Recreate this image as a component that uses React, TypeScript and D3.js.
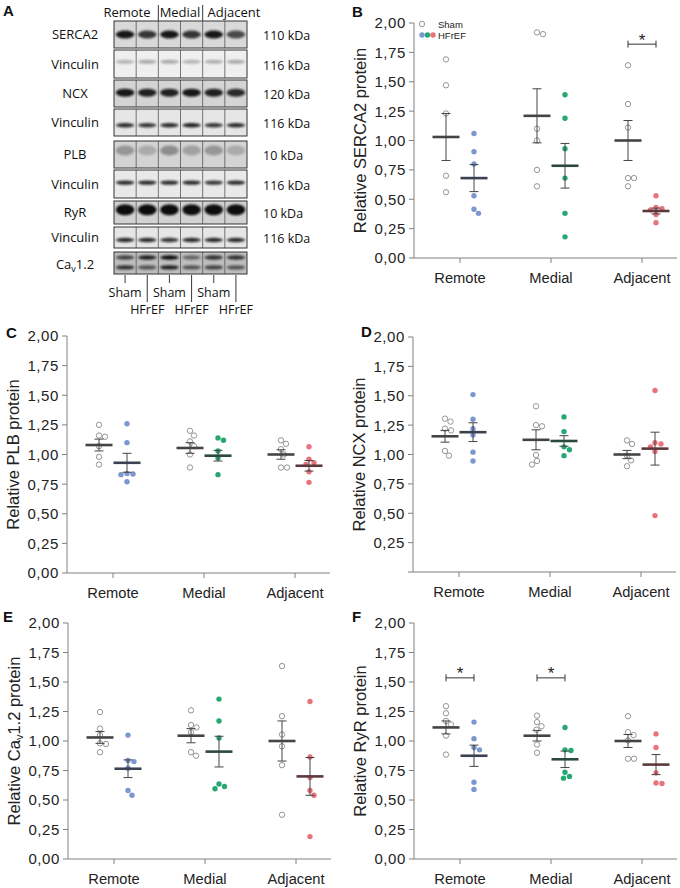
import * as d3 from "d3"

// ---- data ----
const categories = ["Remote", "Medial", "Adjacent"]
const yTicks = [0, 0.25, 0.5, 0.75, 1, 1.25, 1.5, 1.75, 2]
const hfColors = ["#7c97cf", "#27a870", "#e8737d"]
const hfMeanColors = ["#3b4150", "#2b4a3c", "#5b383c"]

// B: SERCA2
const sercaSham = [
  [1.69, 1.47, 1.23, 0.7, 0.56],
  [1.92, 1.905, 1.1, 1.0, 0.75, 0.61],
  [1.64, 1.31, 1.11, 0.68, 0.68, 0.61],
]
const sercaHf = [
  [1.06, 0.905, 0.8, 0.53, 0.415, 0.38],
  [1.39, 1.19, 0.93, 0.68, 0.38, 0.18],
  [0.53, 0.43, 0.42, 0.41, 0.37, 0.3],
]
const sercaShamMean = [1.03, 1.21, 1.0]
const sercaShamSem = [0.2, 0.23, 0.17]
const sercaHfMean = [0.68, 0.785, 0.4]
const sercaHfSem = [0.115, 0.19, 0.025]

// C: PLB
const plbSham = [
  [1.25, 1.16, 1.15, 1.07, 0.98, 0.915],
  [1.2, 1.16, 1.11, 1.07, 1.0, 0.89],
  [1.12, 1.09, 1.045, 1.0, 0.89, 0.89],
]
const plbHf = [
  [1.26, 1.1, 0.84, 0.835, 0.83, 0.77],
  [1.14, 1.12, 1.03, 0.97, 0.83],
  [1.065, 0.96, 0.93, 0.915, 0.855, 0.765],
]
const plbShamMean = [1.08, 1.055, 1.0]
const plbShamSem = [0.05, 0.045, 0.04]
const plbHfMean = [0.93, 0.99, 0.905]
const plbHfSem = [0.08, 0.045, 0.045]

// D: NCX
const ncxSham = [
  [1.305, 1.28, 1.22, 1.205, 1.03, 0.99],
  [1.41, 1.25, 1.24, 0.995, 0.945, 0.915],
  [1.12, 1.09, 0.99, 0.95, 0.9],
]
const ncxHf = [
  [1.51, 1.3, 1.22, 1.165, 1.02, 0.945],
  [1.32, 1.195, 1.065, 1.04, 0.99],
  [1.545, 1.1, 1.09, 1.065, 1.025, 0.48],
]
const ncxShamMean = [1.155, 1.125, 1.0]
const ncxShamSem = [0.05, 0.085, 0.035]
const ncxHfMean = [1.19, 1.115, 1.05]
const ncxHfSem = [0.08, 0.045, 0.14]

// E: Cav1.2
const cavSham = [
  [1.245, 1.105, 1.05, 0.98, 0.975, 0.905],
  [1.26, 1.135, 1.115, 1.075, 0.905, 0.875],
  [1.635, 1.21, 1.055, 0.955, 0.795, 0.375],
]
const cavHf = [
  [1.05, 0.835, 0.825, 0.77, 0.58, 0.54],
  [1.355, 1.17, 1.025, 0.635, 0.615, 0.595],
  [1.335, 0.865, 0.69, 0.58, 0.54, 0.19],
]
const cavShamMean = [1.03, 1.045, 1.0]
const cavShamSem = [0.05, 0.06, 0.17]
const cavHfMean = [0.765, 0.91, 0.7]
const cavHfSem = [0.075, 0.13, 0.16]

// F: RyR
const ryrSham = [
  [1.295, 1.235, 1.17, 1.14, 1.045, 0.885],
  [1.215, 1.16, 1.125, 1.095, 0.97, 0.9],
  [1.21, 1.075, 1.05, 1.005, 0.85, 0.85],
]
const ryrHf = [
  [1.16, 1.02, 0.945, 0.925, 0.65, 0.59],
  [1.115, 0.925, 0.92, 0.735, 0.7, 0.685],
  [1.06, 0.945, 0.73, 0.645, 0.64],
]
const ryrShamMean = [1.115, 1.045, 1.0]
const ryrShamSem = [0.055, 0.045, 0.055]
const ryrHfMean = [0.875, 0.845, 0.8]
const ryrHfSem = [0.09, 0.07, 0.085]

// significance brackets
const sercaBrackets = [{ cat: "Adjacent", value: 1.82 }]
const ryrBrackets = [
  { cat: "Remote", value: 1.535 },
  { cat: "Medial", value: 1.535 },
]

// panel A blot
const blotNames = ["SERCA2", "Vinculin", "NCX", "Vinculin", "PLB", "Vinculin", "RyR", "Vinculin", "Cav1.2"]
const blotKda = ["110 kDa", "116 kDa", "120 kDa", "116 kDa", "10 kDa", "116 kDa", "10 kDa", "116 kDa", ""]
const blotIntensity = [
  [0.95, 0.8, 0.95, 0.8, 0.95, 0.7],
  [0.25, 0.3, 0.3, 0.25, 0.28, 0.3],
  [0.95, 0.9, 0.9, 0.95, 0.9, 0.85],
  [0.85, 0.8, 0.85, 0.9, 0.8, 0.85],
  [0.3, 0.2, 0.35, 0.25, 0.3, 0.2],
  [0.85, 0.85, 0.85, 0.85, 0.8, 0.85],
  [1, 1, 1, 1, 1, 1],
  [0.85, 0.85, 0.8, 0.85, 0.85, 0.85],
  [0.7, 0.9, 1, 0.5, 0.8, 0.8],
]
const cavLowerIntensity = [0.8, 0.6, 0.9, 0.6, 0.7, 0.6]
const laneGroups = ["Sham", "HFrEF", "Sham", "HFrEF", "Sham", "HFrEF"]

// blot layout (box top, height, background, band position, band half-thickness)
const blotLayout = [
  { top: 21, h: 27, bg: "#d9d9d9", pos: 0.5, ry: 4 },
  { top: 50, h: 28, bg: "#efefef", pos: 0.42, ry: 2 },
  { top: 80, h: 27, bg: "#d4d4d4", pos: 0.47, ry: 4 },
  { top: 109, h: 27, bg: "#e6e6e6", pos: 0.6, ry: 2.2 },
  { top: 141, h: 27, bg: "#d3d3d3", pos: 0.35, ry: 5 },
  { top: 170, h: 28, bg: "#e9e9e9", pos: 0.45, ry: 2.2 },
  { top: 201, h: 23, bg: "#d2d2d2", pos: 0.38, ry: 5.5 },
  { top: 227, h: 21, bg: "#e6e6e6", pos: 0.62, ry: 2.2 },
  { top: 252, h: 22, bg: "#bdbdbd", pos: 0.25, ry: 2.2 },
]

const chartFont = "'Liberation Sans', Arial, sans-serif"
const blotFont = "'Open Sans', 'Noto Sans', sans-serif"
const R = 2.7

function swarm(vals: number[], cx: number, y: (v: number) => number) {
  const placed: { x: number; y: number }[] = []
  const sorted = [...vals].sort((a, b) => b - a)
  for (const v of sorted) {
    const py = y(v)
    let k = 0
    let px = cx
    while (k < 80) {
      const off = k === 0 ? 0 : (k % 2 === 1 ? 1 : -1) * Math.ceil(k / 2) * 0.5
      px = cx + off
      const hit = placed.some((p) => Math.hypot(p.x - px, p.y - py) < 2 * R + 0.5)
      if (!hit) break
      k++
    }
    placed.push({ x: px, y: py })
  }
  return placed
}

function Panel(props: any) {
  const { letter, letterX, letterY, x0, yTop, yBot, title, sham, hf, shamMean, shamSem, hfMean, hfSem, brackets, hideZero, legend } = props
  const y = d3.scaleLinear().domain([0, 2]).range([yBot, yTop])
  const x = d3.scalePoint<string>().domain(categories).range([x0 + 46, x0 + 228])
  const fmt = (v: number) => d3.format(".2f")(v).replace(".", ",")
  const shamX = (c: string) => (x(c) as number) - 14
  const hfX = (c: string) => (x(c) as number) + 14

  const meanBar = (cx: number, m: number, s: number, col: string) => (
    <g>
      <line x1={cx} x2={cx} y1={y(m + s)} y2={y(m - s)} stroke="#444" strokeWidth={1} />
      <line x1={cx - 4.5} x2={cx + 4.5} y1={y(m + s)} y2={y(m + s)} stroke="#444" strokeWidth={1} />
      <line x1={cx - 4.5} x2={cx + 4.5} y1={y(m - s)} y2={y(m - s)} stroke="#444" strokeWidth={1} />
      <line x1={cx - 13.5} x2={cx + 13.5} y1={y(m)} y2={y(m)} stroke={col} strokeWidth={2.6} />
    </g>
  )

  return (
    <g fontFamily={chartFont}>
      <text x={letterX} y={letterY} fontSize={15} fontWeight="bold" fill="#111">{letter}</text>
      <text transform={`translate(${x0 - 48},${(yTop + yBot) / 2}) rotate(-90)`} textAnchor="middle" fontSize={16.5} fill="#222">
        {title}
      </text>
      {/* y axis */}
      <line x1={x0} x2={x0} y1={yTop} y2={yBot} stroke="#808080" />
      {yTicks.map((t) => (
        <g key={t}>
          <line x1={x0 - 5} x2={x0} y1={y(t)} y2={y(t)} stroke="#808080" />
          {!(hideZero && t === 0) && (
            <text x={x0 - 8} y={y(t)} dy="0.36em" textAnchor="end" fontSize={15} letterSpacing={0.6} fill="#222">{fmt(t)}</text>
          )}
        </g>
      ))}
      {/* x axis */}
      <line x1={x0} x2={x0 + 263} y1={yBot} y2={yBot} stroke="#808080" />
      {categories.map((c) => (
        <g key={c}>
          <line x1={x(c)} x2={x(c)} y1={yBot} y2={yBot + 5} stroke="#808080" />
          <text x={x(c)} y={yBot + 25} textAnchor="middle" fontSize={14.7} fill="#222">{c}</text>
        </g>
      ))}
      {/* points */}
      {categories.map((c, i) => (
        <g key={c}>
          {swarm(sham[i], shamX(c), y).map((p, j) => (
            <circle key={"s" + j} cx={p.x} cy={p.y} r={R} fill="#fff" stroke="#8a8a8a" strokeWidth={0.9} />
          ))}
          {swarm(hf[i], hfX(c), y).map((p, j) => (
            <circle key={"h" + j} cx={p.x} cy={p.y} r={R} fill={hfColors[i]} />
          ))}
          {meanBar(shamX(c), shamMean[i], shamSem[i], "#444")}
          {meanBar(hfX(c), hfMean[i], hfSem[i], hfMeanColors[i])}
        </g>
      ))}
      {/* significance */}
      {(brackets || []).map((b: any) => {
        const x1 = shamX(b.cat), x2 = hfX(b.cat), by = y(b.value)
        return (
          <g key={b.cat} stroke="#333" strokeWidth={1}>
            <line x1={x1} x2={x2} y1={by} y2={by} />
            <line x1={x1} x2={x1} y1={by - 3.5} y2={by + 3.5} />
            <line x1={x2} x2={x2} y1={by - 3.5} y2={by + 3.5} />
            <text x={(x1 + x2) / 2} y={by + 1.5} textAnchor="middle" fontSize={17} fill="#222" stroke="none">*</text>
          </g>
        )
      })}
      {legend && (
        <g fontSize={9.5} fill="#222">
          <circle cx={x0 + 8} cy={yTop + 1} r={R} fill="#fff" stroke="#8a8a8a" strokeWidth={0.9} />
          <text x={x0 + 24} y={yTop + 4.5}>Sham</text>
          {hfColors.map((col, i) => (
            <circle key={col} cx={x0 + 8 + i * 5.5} cy={yTop + 12} r={R} fill={col} />
          ))}
          <text x={x0 + 24} y={yTop + 15.5}>HFrEF</text>
        </g>
      )}
    </g>
  )
}

function Blot() {
  const lane = d3.scaleBand<number>().domain(d3.range(6)).range([114, 247])
  const bw = lane.bandwidth()
  const labelX = 75
  return (
    <g fontFamily={blotFont} fill="#111">
      <defs>
        <filter id="bandBlur" x="-50%" y="-50%" width="200%" height="200%">
          <feGaussianBlur stdDeviation={1.3} />
        </filter>
        {blotLayout.map((r, i) => (
          <clipPath id={"strip" + i} key={i}>
            <rect x={114} y={r.top} width={133} height={r.h} />
          </clipPath>
        ))}
      </defs>
      <text x={3} y={16} fontFamily={chartFont} fontSize={15} fontWeight="bold">A</text>
      {/* region headers */}
      {["Remote", "Medial", "Adjacent"].map((c, i) => (
        <text key={c} x={[127, 180, 234][i]} y={16.5} textAnchor="middle" fontSize={13}>{c}</text>
      ))}
      <line x1={lane(2)} x2={lane(2)} y1={5} y2={28} stroke="#222" strokeWidth={0.9} />
      <line x1={lane(4)} x2={lane(4)} y1={5} y2={28} stroke="#222" strokeWidth={0.9} />
      {blotLayout.map((r, i) => {
        const name = blotNames[i]
        return (
          <g key={i}>
            <g clipPath={`url(#strip${i})`}>
              <rect x={114} y={r.top} width={133} height={r.h} fill={r.bg} />
              {d3.range(6).map((l) => (
                <ellipse key={l} cx={(lane(l) as number) + bw / 2} cy={r.top + r.h * r.pos} rx={bw * 0.42} ry={r.ry}
                  fill="#111" opacity={blotIntensity[i][l]} filter="url(#bandBlur)" />
              ))}
              {i === 8 && d3.range(6).map((l) => (
                <ellipse key={"b" + l} cx={(lane(l) as number) + bw / 2} cy={r.top + r.h * 0.7} rx={bw * 0.42} ry={2.2}
                  fill="#111" opacity={cavLowerIntensity[l]} filter="url(#bandBlur)" />
              ))}
              {d3.range(1, 6).map((l) => (
                <line key={"d" + l} x1={lane(l)} x2={lane(l)} y1={r.top} y2={r.top + r.h} stroke="#555" strokeWidth={0.8} />
              ))}
            </g>
            <rect x={114} y={r.top} width={133} height={r.h} fill="none" stroke="#333" strokeWidth={1} />
            {name === "Cav1.2" ? (
              <text x={labelX} y={r.top + r.h / 2 + 1} dy="0.36em" textAnchor="middle" fontSize={13}>
                Ca<tspan fontSize={9} dy={3}>v</tspan><tspan dy={-3}>1.2</tspan>
              </text>
            ) : (
              <text x={labelX} y={r.top + r.h / 2} dy="0.36em" textAnchor="middle" fontSize={13}>{name}</text>
            )}
            {blotKda[i] && (
              <text x={263} y={r.top + r.h / 2 + 1} dy="0.36em" fontSize={12.5}>{blotKda[i]}</text>
            )}
          </g>
        )
      })}
      {/* lane group labels */}
      {laneGroups.map((g, l) => {
        const cx = (lane(l) as number) + bw / 2
        const isSham = g === "Sham"
        return (
          <g key={l}>
            <line x1={cx} x2={cx} y1={275} y2={isSham ? 283 : 302} stroke="#222" strokeWidth={0.9} />
            <text x={cx} y={isSham ? 297 : 314} textAnchor="middle" fontSize={12.5}>{g}</text>
          </g>
        )
      })}
    </g>
  )
}

export default function App() {
  return (
    <svg width={680} height={888} style={{ position: "absolute", left: 0, top: 0, background: "#fff" }}>
      <rect width={680} height={888} fill="#fff" />
      <Blot />
      <Panel letter="B" letterX={352} letterY={17} x0={414} yTop={23} yBot={258} title="Relative SERCA2 protein"
        sham={sercaSham} hf={sercaHf} shamMean={sercaShamMean} shamSem={sercaShamSem} hfMean={sercaHfMean} hfSem={sercaHfSem}
        brackets={sercaBrackets} legend />
      <Panel letter="C" letterX={6} letterY={338} x0={67} yTop={336} yBot={573} title="Relative PLB protein"
        sham={plbSham} hf={plbHf} shamMean={plbShamMean} shamSem={plbShamSem} hfMean={plbHfMean} hfSem={plbHfSem} />
      <Panel letter="D" letterX={361} letterY={337} x0={413} yTop={337} yBot={572} title="Relative NCX protein"
        sham={ncxSham} hf={ncxHf} shamMean={ncxShamMean} shamSem={ncxShamSem} hfMean={ncxHfMean} hfSem={ncxHfSem} hideZero />
      <Panel letter="E" letterX={3} letterY={622} x0={68} yTop={623} yBot={859}
        title={<>Relative Ca<tspan fontSize={11} dy={3}>v</tspan><tspan dy={-3}>1.2 protein</tspan></>}
        sham={cavSham} hf={cavHf} shamMean={cavShamMean} shamSem={cavShamSem} hfMean={cavHfMean} hfSem={cavHfSem} />
      <Panel letter="F" letterX={352} letterY={622} x0={414} yTop={623} yBot={859} title="Relative RyR protein"
        sham={ryrSham} hf={ryrHf} shamMean={ryrShamMean} shamSem={ryrShamSem} hfMean={ryrHfMean} hfSem={ryrHfSem}
        brackets={ryrBrackets} />
    </svg>
  )
}
